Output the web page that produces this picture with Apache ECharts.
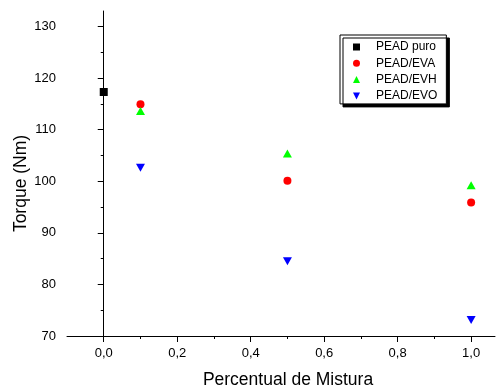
<!DOCTYPE html>
<html>
<head>
<meta charset="utf-8">
<script src="https://cdn.jsdelivr.net/npm/echarts@6/dist/echarts.min.js"></script>
<style>html,body{margin:0;padding:0;background:#fff;}#c{width:497px;height:385px;}</style>
</head>
<body>
<div id="c"></div>
<script>
var seriesNames = ['PEAD puro', 'PEAD/EVA', 'PEAD/EVH', 'PEAD/EVO'];
var peadPuro = [[0.0, 117.3]];
var peadEVA = [[0.1, 114.9], [0.5, 100.1], [1.0, 95.9]];
var peadEVH = [[0.1, 113.6], [0.5, 105.4], [1.0, 99.2]];
var peadEVO = [[0.1, 102.6], [0.5, 84.5], [1.0, 73.1]];
var xMajorTicks = [0, 0.2, 0.4, 0.6, 0.8, 1.0];
var xMinorTicks = [0.1, 0.3, 0.5, 0.7, 0.9];
var yMajorTicks = [70, 80, 90, 100, 110, 120, 130];
var yMinorTicks = [75, 85, 95, 105, 115, 125];

var FONT = '"Liberation Sans", Arial, sans-serif';
var invTri = 'path://M0,0L10,0L5,10Z';
var chart = echarts.init(document.getElementById('c'), null, {renderer: 'canvas'});
var axisLineStyle = {show: true, lineStyle: {color: '#000', width: 1}};
function commaFmt(v) { return Number(v).toFixed(1).replace('.', ','); }

chart.setOption({
  animation: false,
  backgroundColor: '#fff',
  grid: {left: 67, right: 2, top: 11, bottom: 49, containLabel: false, outerBoundsMode: 'none'},
  legend: {
    data: [
      {name: seriesNames[0], icon: 'rect'},
      {name: seriesNames[1], icon: 'circle'},
      {name: seriesNames[2], icon: 'triangle'},
      {name: seriesNames[3], icon: invTri}
    ],
    orient: 'vertical',
    left: 340,
    top: 35,
    itemWidth: 7,
    itemHeight: 7,
    itemGap: 4.3,
    padding: [6, 9, 2, 13],
    backgroundColor: '#fff',
    borderColor: '#000',
    borderWidth: 1,
    shadowColor: '#000',
    shadowBlur: 0,
    shadowOffsetX: 3,
    shadowOffsetY: 3,
    textStyle: {fontFamily: FONT, fontSize: 12, color: '#000', lineHeight: 12, padding: [0, 0, 0, 11]}
  },
  xAxis: [{
    type: 'value', min: -0.1, max: 1.065,
    name: 'Percentual de Mistura', nameLocation: 'middle', nameGap: 35, nameMoveOverlap: false,
    nameTextStyle: {fontFamily: FONT, fontSize: 17.5, color: '#000', padding: [0, 0, 0, 14]},
    axisLine: axisLineStyle,
    axisTick: {show: true, inside: false, length: 6, customValues: xMajorTicks, lineStyle: {color: '#000'}},
    axisLabel: {show: true, margin: 11, customValues: xMajorTicks, formatter: commaFmt, fontFamily: FONT, fontSize: 13, color: '#000'},
    splitLine: {show: false}
  }, {
    type: 'value', min: -0.1, max: 1.065, position: 'bottom',
    axisLine: {show: false},
    axisTick: {show: true, inside: false, length: 3, customValues: xMinorTicks, lineStyle: {color: '#000'}},
    axisLabel: {show: false},
    splitLine: {show: false}
  }],
  yAxis: [{
    type: 'value', min: 70, max: 133,
    name: 'Torque (Nm)', nameLocation: 'middle', nameGap: 37, nameRotate: 90, nameMoveOverlap: false,
    nameTextStyle: {fontFamily: FONT, fontSize: 17.5, color: '#000', padding: [0, 20, 0, 0]},
    axisLine: axisLineStyle,
    axisTick: {show: true, inside: false, length: 6, customValues: yMajorTicks, lineStyle: {color: '#000'}},
    axisLabel: {show: true, margin: 11, customValues: yMajorTicks, fontFamily: FONT, fontSize: 13, color: '#000'},
    splitLine: {show: false}
  }, {
    type: 'value', min: 70, max: 133, position: 'left',
    axisLine: {show: false},
    axisTick: {show: true, inside: false, length: 3, customValues: yMinorTicks, lineStyle: {color: '#000'}},
    axisLabel: {show: false},
    splitLine: {show: false}
  }],
  series: [
    {name: seriesNames[0], type: 'scatter', data: peadPuro, symbol: 'rect', symbolSize: 8, itemStyle: {color: '#000000', opacity: 1}},
    {name: seriesNames[1], type: 'scatter', data: peadEVA, symbol: 'circle', symbolSize: 8, itemStyle: {color: '#ff0000', opacity: 1}},
    {name: seriesNames[2], type: 'scatter', data: peadEVH, symbol: 'triangle', symbolSize: [9, 8], itemStyle: {color: '#00ff00', opacity: 1}},
    {name: seriesNames[3], type: 'scatter', data: peadEVO, symbol: invTri, symbolSize: [9, 8], itemStyle: {color: '#0000ff', opacity: 1}}
  ]
});
</script>
</body>
</html>
